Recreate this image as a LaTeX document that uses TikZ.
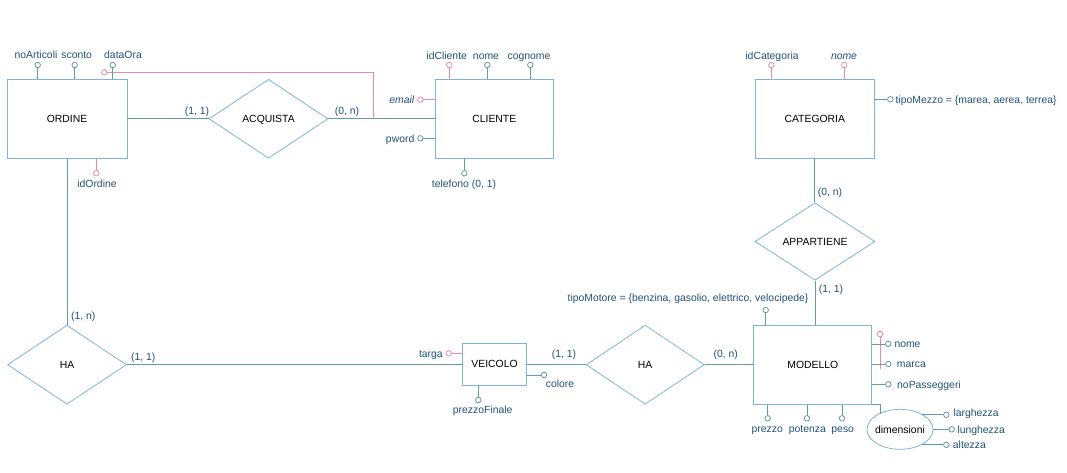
\documentclass[tikz,border=0pt]{standalone}
\usepackage{fontspec}
\setmainfont{Liberation Sans}
\usetikzlibrary{shapes.geometric}
\definecolor{entc}{RGB}{124,180,220}
\definecolor{conc}{RGB}{102,152,172}
\definecolor{labc}{RGB}{32,80,122}
\definecolor{pinkc}{RGB}{230,140,166}
\begin{document}
\begin{tikzpicture}[x=1pt,y=-1pt,
  font=\fontsize{10.4}{12}\selectfont,
  entity/.style={rectangle, draw=entc, line width=0.9pt, inner sep=0pt, text=black, text height=7.5pt, text depth=0pt},
  relation/.style={diamond, draw=entc, line width=0.8pt, inner sep=0pt, shape aspect=1.5, minimum width=119pt, minimum height=79pt, text=black, text height=7.5pt, text depth=0pt},
  attr/.style={circle, draw=conc, fill=white, line width=0.8pt, minimum size=5.5pt, inner sep=0pt},
  keyattr/.style={attr, draw=pinkc},
  lab/.style={text=labc, inner sep=0pt, text height=7.5pt, text depth=0pt},
  conn/.style={draw=conc, line width=0.9pt},
  kconn/.style={draw=pinkc, line width=0.9pt}]
\useasboundingbox (0,0) rectangle (1067,472);

% entities
\node[entity, minimum width=120pt, minimum height=79pt] (ordine) at (67,118.8) {ORDINE};
\node[entity, minimum width=118pt, minimum height=79pt] (cliente) at (494.3,118.8) {CLIENTE};
\node[entity, minimum width=119pt, minimum height=79pt] (categoria) at (814.8,118.8) {CATEGORIA};
\node[entity, minimum width=118pt, minimum height=79pt] (modello) at (812.9,364.8) {MODELLO};
\node[entity, minimum width=64pt, minimum height=42pt] (veicolo) at (494.5,364.2) {VEICOLO};

% relations
\node[relation] (acquista) at (268.5,118.8) {ACQUISTA};
\node[relation] (ha1) at (67,364.7) {HA};
\node[relation, minimum width=118.3pt] (ha2) at (645.2,364.7) {HA};
\node[relation, minimum width=120pt, minimum height=77.5pt] (appartiene) at (815,241.5) {APPARTIENE};

% connectors
\draw[conn] (ordine.east) -- (acquista.west);
\draw[conn] (acquista.east) -- (cliente.west);
\draw[conn] (ordine.south) -- (ha1.north);
\draw[conn] (ha1.east) -- (ha1.east -| veicolo.west);
\draw[conn] (veicolo.east |- ha2.west) -- (ha2.west);
\draw[conn] (ha2.east) -- (ha2.east -| modello.west);
\draw[conn] (categoria.south) -- (categoria.south |- appartiene.north);
\draw[conn] (appartiene.south) -- (appartiene.south |- modello.north);

% cardinalities
\node[lab] (c1) at (197,111) {(1, 1)};
\node[lab] (c2) at (347,111) {(0, n)};
\node[lab] (c3) at (83.3,315.7) {(1, n)};
\node[lab] (c4) at (143.3,356.7) {(1, 1)};
\node[lab] (c5) at (564,354) {(1, 1)};
\node[lab] (c6) at (725.7,354) {(0, n)};
\node[lab] (c7) at (830,192) {(0, n)};
\node[lab] (c8) at (831,288.5) {(1, 1)};

% ORDINE attributes
\node[keyattr] (kOrdine) at (104.3,72.3) {};
\coordinate (kJoin) at (373,118.8);
\draw[kconn] (kOrdine) -- (kOrdine -| kJoin) -- (kJoin);
\node[attr] (aNoArt) at (37.7,65) {};
\node[lab] (lNoArt) at (36,54.5) {noArticoli};
\draw[conn] (aNoArt) -- (aNoArt |- ordine.north);
\node[attr] (aSconto) at (74.7,65) {};
\node[lab] (lSconto) at (76.7,54.5) {sconto};
\draw[conn] (aSconto) -- (aSconto |- ordine.north);
\node[attr] (aDataOra) at (112.7,65) {};
\node[lab] (lDataOra) at (123,55) {dataOra};
\draw[conn] (aDataOra) -- (aDataOra |- ordine.north);
\node[keyattr] (kIdOrd) at (96.3,173.3) {};
\node[lab] (lIdOrd) at (97,184) {idOrdine};
\draw[kconn] (kIdOrd) -- (kIdOrd |- ordine.south);

% CLIENTE attributes
\node[keyattr] (kIdCli) at (449.3,65) {};
\node[lab] (lIdCli) at (446.7,56) {idCliente};
\draw[kconn] (kIdCli) -- (kIdCli |- cliente.north);
\node[attr] (aNomeC) at (487.3,65) {};
\node[lab] (lNomeC) at (486,56) {nome};
\draw[conn] (aNomeC) -- (aNomeC |- cliente.north);
\node[attr] (aCognome) at (530.3,65) {};
\node[lab] (lCognome) at (529,56) {cognome};
\draw[conn] (aCognome) -- (aCognome |- cliente.north);
\node[keyattr] (kEmail) at (420.3,99.7) {};
\node[lab, anchor=east] (lEmail) at (414.5,99.7) {\itshape email};
\draw[kconn] (kEmail) -- (kEmail -| cliente.west);
\node[attr] (aPword) at (420.3,138.3) {};
\node[lab, anchor=east] (lPword) at (414.5,138.3) {pword};
\draw[conn] (aPword) -- (aPword -| cliente.west);
\node[attr] (aTel) at (464.3,173.3) {};
\node[lab] (lTel) at (464,184) {telefono (0, 1)};
\draw[conn] (aTel) -- (aTel |- cliente.south);

% CATEGORIA attributes
\node[keyattr] (kIdCat) at (771.3,65) {};
\node[lab] (lIdCat) at (772,56) {idCategoria};
\draw[kconn] (kIdCat) -- (kIdCat |- categoria.north);
\node[keyattr] (kNomeCat) at (844.3,65) {};
\node[lab] (lNomeCat) at (844,56) {\itshape nome};
\draw[kconn] (kNomeCat) -- (kNomeCat |- categoria.north);
\node[attr] (aTipoMezzo) at (890.3,99.3) {};
\node[lab, anchor=west] (lTipoMezzo) at (895.5,99.3) {tipoMezzo = \{marea, aerea, terrea\}};
\draw[conn] (aTipoMezzo) -- (aTipoMezzo -| categoria.east);

% MODELLO attributes
\node[attr] (aTipoMot) at (765.7,310) {};
\node[lab] (lTipoMot) at (688,297.3) {tipoMotore = \{benzina, gasolio, elettrico, velocipede\}};
\draw[conn] (aTipoMot) -- (aTipoMot |- modello.north);
\node[keyattr] (kMod) at (880,334) {};
\coordinate (kModEnd) at (880,369.3);
\draw[kconn] (kMod) -- (kModEnd);
\node[attr] (aNomeM) at (888.3,344) {};
\node[lab, anchor=west] (lNomeM) at (894.3,344) {nome};
\draw[conn] (aNomeM) -- (aNomeM -| modello.east);
\node[attr] (aMarca) at (888.3,364) {};
\node[lab, anchor=west] (lMarca) at (896.7,364) {marca};
\draw[conn] (aMarca) -- (aMarca -| modello.east);
\node[attr] (aNoPass) at (888.3,384.3) {};
\node[lab, anchor=west] (lNoPass) at (897,384.3) {noPasseggeri};
\draw[conn] (aNoPass) -- (aNoPass -| modello.east);
\node[attr] (aPrezzo) at (767.7,418.3) {};
\node[lab] (lPrezzo) at (767.3,428.8) {prezzo};
\draw[conn] (aPrezzo) -- (aPrezzo |- modello.south);
\node[attr] (aPotenza) at (807,418.3) {};
\node[lab] (lPotenza) at (807.3,428.8) {potenza};
\draw[conn] (aPotenza) -- (aPotenza |- modello.south);
\node[attr] (aPeso) at (842,418.3) {};
\node[lab] (lPeso) at (842.7,428.8) {peso};
\draw[conn] (aPeso) -- (aPeso |- modello.south);

% dimensioni
\node[ellipse, draw=entc, line width=0.8pt, inner sep=0pt, minimum width=66pt, minimum height=40pt, text=black, text height=7.5pt, text depth=0pt] (dim) at (900,429.3) {\makebox[40pt][c]{dimensioni}};
\coordinate (dimTop) at (880,413.6);
\draw[conn] (modello.south east) -| (dimTop);
\node[attr] (aLargh) at (946.3,414.8) {};
\node[lab, anchor=west] (lLargh) at (953.3,413) {larghezza};
\draw[conn] (aLargh) -- (aLargh -| dim.34.5);
\node[attr] (aLungh) at (951.7,429.3) {};
\node[lab, anchor=west] (lLungh) at (957.3,429.3) {lunghezza};
\draw[conn] (aLungh) -- (dim.east);
\node[attr] (aAlt) at (946.3,444.8) {};
\node[lab, anchor=west] (lAlt) at (952.7,444.7) {altezza};
\draw[conn] (aAlt) -- (aAlt -| dim.-34.5);

% VEICOLO attributes
\node[keyattr] (kTarga) at (448.7,353.3) {};
\node[lab, anchor=east] (lTarga) at (442.9,353.3) {targa};
\draw[kconn] (kTarga) -- (kTarga -| veicolo.west);
\node[attr] (aColore) at (544,375) {};
\node[lab] (lColore) at (560,383.5) {colore};
\draw[conn] (aColore) -- (aColore -| veicolo.east);
\node[attr] (aPrezzoF) at (478.3,400) {};
\node[lab] (lPrezzoF) at (482.7,410) {prezzoFinale};
\draw[conn] (aPrezzoF) -- (aPrezzoF |- veicolo.south);
\end{tikzpicture}
\end{document}
